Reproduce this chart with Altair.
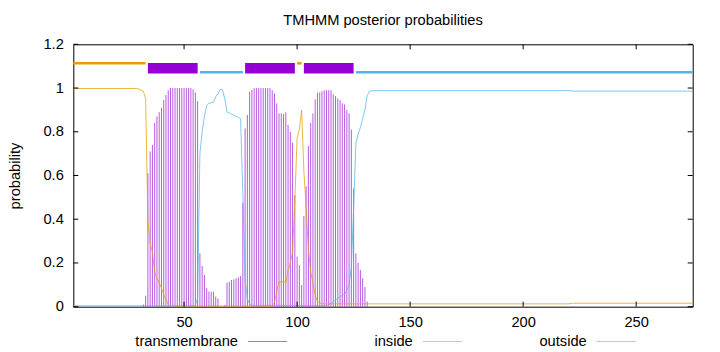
import altair as alt
import pandas as pd

FONT = "Liberation Sans"
FS = 14.67
W = 619.4
H = 262.4

C_TM = "#9400d3"
C_IN = "#56b4e9"
C_OUT = "#e69f00"

x_ticks = [50, 100, 150, 200, 250]
y_ticks = [0, 0.2, 0.4, 0.6, 0.8, 1.0, 1.2]

# transmembrane posterior probability per residue, starting at residue 32
tm_first = 32
tm_values = [
    0.01, 0.05, 0.61, 0.71, 0.74, 0.84, 0.87, 0.89, 0.91, 0.945,
    0.968, 0.99, 1.0, 1.0, 1.0, 1.0, 1.0, 1.0, 1.0, 1.0,
    1.0, 1.0, 0.995, 0.98, 0.94, 0.244, 0.186, 0.145, 0.084, 0.069,
    0.069, 0.069, 0.046, 0.038, 0.0, 0.0, 0.008, 0.11, 0.114, 0.122,
    0.125, 0.13, 0.134, 0.14, 0.476, 0.816, 0.877, 0.983, 0.991, 1.0,
    1.0, 1.0, 1.0, 1.0, 1.0, 1.0, 1.0, 0.99, 0.975, 0.93,
    0.884, 0.884, 0.881, 0.889, 0.831, 0.8, 0.75, 0.51, 0.229, 0.19,
    0.099, 0.415, 0.55, 0.735, 0.84, 0.884, 0.948, 0.979, 0.98, 0.985,
    0.99, 0.99, 0.99, 0.99, 0.972, 0.963, 0.953, 0.945, 0.93, 0.925,
    0.9, 0.884, 0.81, 0.54, 0.244, 0.2, 0.168, 0.13, 0.09, 0.023,
]

inside_pos = [1, 55, 56, 57, 58, 59, 60, 61, 62, 63, 64, 65, 66, 67, 68, 69, 70,
              71, 72, 73, 74, 75, 76, 77, 78, 79, 80, 113, 114, 115, 116, 117,
              118, 119, 120, 121, 122, 123, 124, 125, 126, 127, 128, 129, 130,
              131, 132, 133, 220, 222, 275]
inside_prob = [0.004, 0.004, 0.04, 0.7, 0.8, 0.87, 0.92, 0.93, 0.932, 0.935, 0.96,
               0.975, 0.994, 0.992, 0.95, 0.89, 0.886, 0.88, 0.876, 0.872, 0.866,
               0.86, 0.52, 0.12, 0.035, 0.013, 0.006, 0.005, 0.01, 0.015, 0.023,
               0.03, 0.038, 0.045, 0.052, 0.058, 0.075, 0.1, 0.18, 0.45, 0.745,
               0.79, 0.82, 0.86, 0.9, 0.965, 0.985, 0.988, 0.988, 0.986, 0.986]

outside_pos = [1, 29, 30, 31, 32, 33, 34, 35, 36, 37, 38, 39, 40, 41, 42, 43, 44,
               89, 90, 91, 92, 93, 94, 95, 96, 97, 98, 99, 100, 101, 102, 103,
               104, 105, 106, 107, 108, 109, 110, 111, 220, 222, 275]
outside_prob = [0.998, 0.998, 0.996, 0.99, 0.985, 0.95, 0.39, 0.29, 0.25, 0.16,
                0.13, 0.11, 0.085, 0.055, 0.032, 0.01, 0.003, 0.003, 0.02, 0.07,
                0.114, 0.114, 0.114, 0.11, 0.165, 0.2, 0.25, 0.49, 0.77, 0.81,
                0.9, 0.62, 0.45, 0.265, 0.16, 0.11, 0.052, 0.025, 0.018, 0.013,
                0.013, 0.016, 0.016]

# predicted topology
seg_start = [1, 34, 57, 77, 100, 103, 126]
seg_end = [33, 56, 76, 99, 102, 125, 275]
seg_type = ["outside", "TM", "inside", "TM", "outside", "TM", "inside"]

LEVEL_OUT = 1.113
LEVEL_IN = 1.072
TM_BOX = (1.067, 1.114)

tm_df = pd.DataFrame({
    "x": list(range(tm_first, tm_first + len(tm_values))),
    "y": tm_values,
})
tm_df["base"] = 0.0
in_df = pd.DataFrame({"x": inside_pos, "y": inside_prob})
out_df = pd.DataFrame({"x": outside_pos, "y": outside_prob})
seg_df = pd.DataFrame({"x": seg_start, "x2": seg_end, "type": seg_type})
seg_out = seg_df[seg_df["type"] == "outside"].assign(y=LEVEL_OUT)
seg_in = seg_df[seg_df["type"] == "inside"].assign(y=LEVEL_IN)
seg_tm = seg_df[seg_df["type"] == "TM"].assign(y=TM_BOX[0], y2=TM_BOX[1])
xt_df = pd.DataFrame({"x": x_ticks})
yt_df = pd.DataFrame({"y": y_ticks})

xs = alt.Scale(domain=[1, 275], nice=False, zero=False)
ys = alt.Scale(domain=[0, 1.2], nice=False, zero=False)

x_axis = alt.Axis(values=x_ticks, format="d", ticks=False, domain=False, grid=False,
                  labelPadding=8, labelFontSize=FS, labelFont=FONT, labelColor="#000",
                  labelFlush=False, title="")
y_axis = alt.Axis(values=y_ticks, format="~g", ticks=False, domain=False, grid=False,
                  labelPadding=10, labelFontSize=FS, labelFont=FONT, labelColor="#000",
                  labelFlush=False,
                  title="probability", titleFont=FONT, titleFontSize=FS,
                  titleFontWeight="normal", titleColor="#000", titleAngle=270,
                  titleX=-58, titleY=H / 2, titleAlign="center", titleBaseline="middle")

xenc = alt.X("x:Q", scale=xs, axis=x_axis)
yenc = alt.Y("y:Q", scale=ys, axis=y_axis)

impulses = alt.Chart(tm_df).mark_rule(color=C_TM, strokeWidth=1, opacity=0.65).encode(
    x=xenc, y=yenc, y2="base:Q")
inside_line = alt.Chart(in_df).mark_line(color=C_IN, strokeWidth=1, opacity=0.75).encode(
    x=xenc, y=yenc)
outside_line = alt.Chart(out_df).mark_line(color=C_OUT, strokeWidth=1, opacity=0.75).encode(
    x=xenc, y=yenc)

seg_out_l = alt.Chart(seg_out).mark_rule(color=C_OUT, strokeWidth=2.5).encode(
    x=xenc, x2="x2:Q", y=yenc)
seg_in_l = alt.Chart(seg_in).mark_rule(color=C_IN, strokeWidth=2.5).encode(
    x=xenc, x2="x2:Q", y=yenc)
seg_tm_l = alt.Chart(seg_tm).mark_rect(color=C_TM).encode(
    x=xenc, x2="x2:Q", y=yenc, y2="y2:Q")

TL = 5
xt_bot = alt.Chart(xt_df).mark_rule(color="#000", strokeWidth=1).encode(
    x=xenc, y=alt.value(H), y2=alt.value(H - TL))
xt_top = alt.Chart(xt_df).mark_rule(color="#000", strokeWidth=1).encode(
    x=xenc, y=alt.value(0), y2=alt.value(TL))
yt_left = alt.Chart(yt_df).mark_rule(color="#000", strokeWidth=1).encode(
    y=yenc, x=alt.value(0), x2=alt.value(TL))
yt_right = alt.Chart(yt_df).mark_rule(color="#000", strokeWidth=1).encode(
    y=yenc, x=alt.value(W), x2=alt.value(W - TL))

# key below the plot (label, then line sample)
legend_names = ["transmembrane", "inside", "outside"]
legend_colors = [C_TM, C_IN, C_OUT]
legend_text_right = [164.7, 339.4, 513.4]
LEG_Y = 297.2
one = pd.DataFrame({"k": [0]})
legend_layers = []
for name, col, tx in zip(legend_names, legend_colors, legend_text_right):
    legend_layers.append(
        alt.Chart(one).mark_text(text=name, align="right", baseline="middle",
                                 font=FONT, fontSize=FS, color="#000").encode(
            x=alt.value(tx), y=alt.value(LEG_Y)))
    legend_layers.append(
        alt.Chart(one).mark_rule(color=col, strokeWidth=1, opacity=0.6).encode(
            x=alt.value(tx + 10), x2=alt.value(tx + 49), y=alt.value(LEG_Y)))

chart = alt.layer(
    impulses, inside_line, outside_line, seg_out_l, seg_in_l, seg_tm_l,
    xt_bot, xt_top, yt_left, yt_right, *legend_layers
).properties(
    width=W, height=H,
    autosize=alt.AutoSizeParams(type="none"),
    padding={"left": 73.3, "top": 44.3, "right": 27.3, "bottom": 45.3},
    title=alt.TitleParams(text="TMHMM posterior probabilities", font=FONT, fontSize=FS,
                          fontWeight="normal", color="#000", offset=9, anchor="middle"),
).configure_view(stroke="#000", strokeWidth=1)

chart.save("out.html", embed_options={"renderer": "svg", "actions": False})
